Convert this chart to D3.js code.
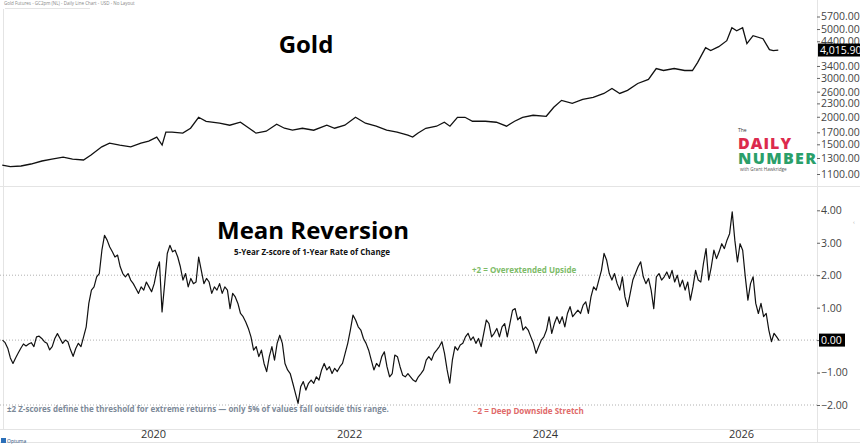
<!DOCTYPE html>
<html>
<head>
<meta charset="utf-8">
<script src="https://cdn.jsdelivr.net/npm/d3@7"></script>
<style>
  body { margin: 0; background: #fff; }
  text { font-family: 'Open Sans', sans-serif; }
</style>
</head>
<body>
<div id="chart"></div>
<script>
// gold futures
var goldDates = ["2018-06-18","2018-07-18","2018-08-27","2018-10-03","2018-11-13","2018-12-20","2019-01-31","2019-03-07","2019-04-17","2019-05-15",
  "2019-06-24","2019-07-23","2019-08-30","2019-10-10","2019-11-17","2019-12-16","2020-01-15","2020-02-04","2020-02-18","2020-03-12",
  "2020-04-21","2020-05-20","2020-06-19","2020-07-17","2020-09-05","2020-10-13","2020-11-22","2020-12-19","2021-01-19","2021-02-26",
  "2021-04-06","2021-05-05","2021-06-04","2021-07-11","2021-08-22","2021-10-10","2021-11-08","2021-12-16","2022-01-25","2022-03-03",
  "2022-04-12","2022-05-21","2022-06-29","2022-08-08","2022-08-26","2022-09-14","2022-10-14","2022-11-23","2022-12-22","2023-01-12",
  "2023-02-09","2023-03-09","2023-04-06","2023-05-24","2023-07-04","2023-08-11","2023-09-10","2023-10-10","2023-11-18","2024-01-06",
  "2024-02-03","2024-03-03","2024-04-12","2024-05-21","2024-06-29","2024-08-08","2024-09-07","2024-10-06","2024-11-04","2024-12-12",
  "2025-01-21","2025-02-19","2025-03-18","2025-04-27","2025-06-05","2025-07-04","2025-07-23","2025-08-22","2025-09-10","2025-10-10",
  "2025-11-09","2025-11-28","2025-12-16","2026-01-07","2026-01-23","2026-02-15","2026-03-24","2026-04-17","2026-05-01","2026-05-20"];
var goldValues = [1208,1187,1196,1221,1260,1286,1313,1286,1273,1341,
  1461,1518,1488,1461,1518,1550,1617,1488,1703,1703,
  1685,1774,1989,1908,1870,1831,1889,1793,1685,1720,
  1850,1774,1738,1774,1738,1831,1774,1831,1989,1870,
  1812,1738,1703,1650,1617,1685,1774,1812,1889,1812,
  1989,1989,1908,1908,1889,1812,1908,1989,2032,2010,
  2208,2374,2300,2398,2448,2552,2689,2552,2634,2832,
  2953,3310,3243,3310,3243,3243,3523,4117,3991,4160,
  4427,5068,4913,5068,4291,4664,4520,4033,3991,4015.9];
var goldTicks = [1100,1300,1500,1700,2000,2300,2600,3000,3400,4400,5000,5700];

// 5-year z-score of 1-year rate of change, one reading about every 10 days
var zStart = "2018-06-19";
var zStepDays = 9.75;
var zValues = [0,-0.08,-0.25,-0.55,-0.72,-0.55,-0.4,-0.25,-0.12,-0.18,-0.12,-0.08,-0.2,0.1,0.12,0.05,-0.05,-0.1,-0.3,-0.2,
  0.05,0.2,0.05,-0.1,0.0,-0.05,-0.3,-0.5,-0.26,-0.1,
  -0.2,0.1,0.41,1.13,1.54,1.64,1.95,2.05,2.77,3.23,3.08,2.87,2.72,2.56,2.62,2.26,2.05,1.95,2.05,1.85,
  1.74,1.59,1.44,1.64,1.54,1.79,1.64,1.49,1.74,2.15,2.41,0.87,1.74,2.67,2.92,2.72,2.77,2.56,2.26,1.85,
  2.05,1.64,1.90,1.74,1.79,2.56,2.15,1.74,1.90,1.79,1.44,1.64,1.54,1.74,1.44,1.64,1.54,0.97,1.44,1.33,
  1.13,0.82,0.72,0.56,0.36,0.10,-0.31,-0.2,-0.51,-0.31,-0.72,-0.97,-0.51,-0.2,-0.62,-0.1,0.15,-0.1,-0.72,-0.92,
  -1.03,-1.33,-1.64,-1.95,-1.44,-1.28,-1.54,-1.33,-1.23,-1.33,-1.13,-1.23,-0.92,-0.72,-0.92,-0.82,-1.03,-0.87,-0.97,-0.82,
  -0.72,-0.41,-0.1,0.31,0.77,0.62,0.41,0.31,0.05,-0.1,-0.31,-0.62,-0.92,-0.72,-0.82,-0.51,-0.36,-0.82,-1.13,-1.03,
  -0.46,-0.51,-0.82,-1.08,-1.13,-1.03,-1.13,-1.23,-1.28,-1.13,-1.03,-0.92,-0.62,-0.51,-0.62,-0.41,-0.31,-0.2,-0.05,-0.41,
  -0.92,-1.33,-0.62,-0.2,-0.31,-0.15,-0.1,0.10,0.21,0,0.1,-0.1,0.05,-0.2,0.21,0.62,0.51,0.1,0.21,0.36,
  0.1,0.41,0.51,0.1,0.51,0.92,0.97,0.62,0.72,0.31,0.41,0.31,0.1,-0.1,-0.41,-0.2,0,0.1,0.31,0.72,
  0.21,0.51,0.72,0.51,0.72,0.41,0.82,1.03,0.72,0.82,0.92,0.82,1.08,1.18,0.82,1.33,1.64,1.54,1.85,2.15,
  2.67,2.46,2.05,1.85,2.05,1.74,1.54,1.95,1.33,1.03,1.44,1.85,2.05,2.26,2.41,1.95,1.74,1.90,1.54,0.97,
  1.95,2.05,1.85,1.95,2.10,1.90,2.15,1.79,2.0,1.64,1.85,1.54,1.79,1.23,1.64,2.15,1.85,1.79,2.36,2.82,
  1.85,2.26,2.77,2.51,2.72,2.97,2.82,3.08,3.28,3.95,3.08,2.41,2.97,2.77,1.95,1.23,1.74,1.95,1.13,0.82,
  1.13,0.72,0.82,0.31,-0.05,0.21,0.1,-0.02];
var zTicks = [-2,-1,0,1,2,3,4];
var zLevels = [2,0,-2];
var yearTicks = ["2020-01-01","2022-01-01","2024-01-01","2026-01-01"];

// set up svg
var svgWidth = 860;
var svgHeight = 446;
var plotRight = 817;
var parseDate = d3.timeParse('%Y-%m-%d');

var svg = d3.select('#chart')
    .append('svg')
    .attr('width', svgWidth)
    .attr('height', svgHeight);

var goldData = goldDates.map(function(d, i) {
    return { date: parseDate(d), value: goldValues[i] };
});
var t0 = parseDate(zStart).getTime();
var zData = zValues.map(function(v, i) {
    return { date: new Date(t0 + i * zStepDays * 864e5), value: v };
});

// scales
var xScale = d3.scaleTime()
    .domain([parseDate('2020-01-01'), parseDate('2026-01-01')])
    .range([153, 741]);

var yGold = d3.scaleLog()
    .domain([1100, 5700])
    .range([174, 16.5]);

var yZ = d3.scaleLinear()
    .domain([-2, 4])
    .range([405, 210.3]);

// frame lines
var frame = svg.append('g').attr('stroke', '#e4e4e4').attr('stroke-width', 1);
frame.append('line').attr('x1', 0).attr('x2', svgWidth).attr('y1', 186.5).attr('y2', 186.5);
frame.append('line').attr('x1', 0).attr('x2', svgWidth).attr('y1', 429.5).attr('y2', 429.5);
frame.append('line').attr('x1', 0).attr('x2', svgWidth).attr('y1', 442.5).attr('y2', 442.5);
frame.append('line').attr('x1', 5).attr('x2', 90).attr('y1', 8.5).attr('y2', 8.5);
frame.append('line').attr('x1', 3.5).attr('x2', 3.5).attr('y1', 9).attr('y2', 429);
frame.append('line').attr('x1', plotRight + 0.5).attr('x2', plotRight + 0.5).attr('y1', 0).attr('y2', 443);

// chart heading
svg.append('text')
    .attr('x', 4).attr('y', 5)
    .attr('font-size', 4.5)
    .attr('fill', '#888')
    .text('Gold Futures - GC2pm (NL) - Daily Line Chart - USD - No Layout');

// z-score reference levels
svg.selectAll('.level')
    .data(zLevels)
    .enter()
    .append('line')
    .attr('class', 'level')
    .attr('x1', 0).attr('x2', plotRight)
    .attr('y1', d => yZ(d)).attr('y2', d => yZ(d))
    .attr('stroke', '#b0b0b0')
    .attr('stroke-width', 1)
    .attr('stroke-dasharray', '1,2');

// lines
var goldLine = d3.line().x(d => xScale(d.date)).y(d => yGold(d.value));
var zLine = d3.line().x(d => xScale(d.date)).y(d => yZ(d.value));

svg.append('path')
    .datum(goldData)
    .attr('fill', 'none')
    .attr('stroke', '#111')
    .attr('stroke-width', 1.3)
    .attr('d', goldLine);

svg.append('path')
    .datum(zData)
    .attr('fill', 'none')
    .attr('stroke', '#111')
    .attr('stroke-width', 1.2)
    .attr('stroke-linejoin', 'round')
    .attr('d', zLine);

// right axes
function styleAxis(g) {
    g.select('.domain').remove();
    g.selectAll('.tick line').attr('stroke', '#666');
    g.selectAll('.tick text')
        .attr('x', 4)
        .attr('fill', '#444')
        .style('font-family', "'Open Sans', sans-serif")
        .style('font-size', '10.5px');
}

svg.append('g')
    .attr('transform', `translate(${plotRight},0)`)
    .call(d3.axisRight(yGold).tickValues(goldTicks).tickFormat(d3.format('.2f')).tickSize(3))
    .call(styleAxis);

var zAxis = svg.append('g')
    .attr('transform', `translate(${plotRight},0)`)
    .call(d3.axisRight(yZ).tickValues(zTicks).tickFormat(d3.format('.2f')).tickSize(3))
    .call(styleAxis);
// the zero label is drawn as the last-value box instead
zAxis.selectAll('.tick').filter(d => d === 0).select('text').remove();

// last value boxes
var lastGold = goldData[goldData.length - 1];
var lastZ = zData[zData.length - 1];

svg.append('rect')
    .attr('x', plotRight + 1).attr('y', yGold(lastGold.value) - 6.5)
    .attr('width', 46).attr('height', 13)
    .attr('fill', '#000');
svg.append('text')
    .attr('x', plotRight + 3).attr('y', yGold(lastGold.value) + 4)
    .attr('fill', '#fff')
    .attr('font-size', 10.5)
    .text(d3.format(',.2f')(lastGold.value));

svg.append('rect')
    .attr('x', plotRight + 2).attr('y', yZ(0) - 6.5)
    .attr('width', 26).attr('height', 13)
    .attr('fill', '#000');
svg.append('text')
    .attr('x', plotRight + 4).attr('y', yZ(0) + 4)
    .attr('fill', '#fff')
    .attr('font-size', 10.5)
    .text(d3.format('.2f')(Math.abs(lastZ.value) < 0.05 ? 0 : lastZ.value));

// bottom time axis
var xAxis = svg.append('g')
    .attr('transform', 'translate(0,430)')
    .call(d3.axisBottom(xScale).tickValues(yearTicks.map(parseDate)).tickFormat(d3.timeFormat('%Y')).tickSize(0));
xAxis.select('.domain').remove();
xAxis.selectAll('text')
    .attr('dy', '0.55em')
    .attr('y', 2)
    .attr('fill', '#333')
    .style('font-family', "'Open Sans', sans-serif")
    .style('font-size', '11px');

// titles
svg.append('text')
    .attr('x', 306).attr('y', 53)
    .attr('text-anchor', 'middle')
    .attr('font-size', 24)
    .attr('font-weight', 'bold')
    .attr('fill', '#000')
    .text('Gold');

svg.append('text')
    .attr('x', 313).attr('y', 239)
    .attr('text-anchor', 'middle')
    .attr('font-size', 24)
    .attr('font-weight', 'bold')
    .attr('fill', '#000')
    .text('Mean Reversion');

svg.append('text')
    .attr('x', 312).attr('y', 254.5)
    .attr('text-anchor', 'middle')
    .attr('font-size', 8)
    .attr('font-weight', 'bold')
    .attr('fill', '#111')
    .text('5-Year Z-score of 1-Year Rate of Change');

svg.append('text')
    .attr('x', 472).attr('y', 272.5)
    .attr('font-size', 8)
    .attr('font-weight', 'bold')
    .attr('fill', '#7dbb68')
    .text('+2 = Overextended Upside');

svg.append('text')
    .attr('x', 473).attr('y', 413.5)
    .attr('font-size', 8)
    .attr('font-weight', 'bold')
    .attr('fill', '#e06a6a')
    .text('\u22122 = Deep Downside Stretch');

svg.append('text')
    .attr('x', 7).attr('y', 411.5)
    .attr('font-size', 8)
    .attr('font-weight', 'bold')
    .attr('fill', '#7d8a99')
    .text('\u00b12 Z-scores define the threshold for extreme returns \u2014 only 5% of values fall outside this range.');

// The Daily Number logo
var logo = svg.append('g').style('font-family', "Roboto, sans-serif");
logo.append('text').attr('x', 738).attr('y', 132).attr('font-size', 5).attr('fill', '#333').text('The');
logo.append('text').attr('x', 738).attr('y', 148.5).attr('font-size', 16).attr('font-weight', 900)
    .attr('fill', '#dc2a4d').attr('textLength', 53).text('DAILY');
logo.append('text').attr('x', 738).attr('y', 164).attr('font-size', 16).attr('font-weight', 900)
    .attr('fill', '#2a9f6a').attr('textLength', 78).text('NUMBER');
logo.append('text').attr('x', 740).attr('y', 171).attr('font-size', 4.6).attr('fill', '#555').text('with Grant Hawkridge');

// Optuma mark
svg.append('rect').attr('x', 1).attr('y', 438).attr('width', 5).attr('height', 5).attr('fill', '#2b6fb8');
svg.append('text').attr('x', 7).attr('y', 443).attr('font-size', 5).attr('fill', '#2b4f7a').text('Optuma');

svg.append('text').attr('x', 853).attr('y', 224).attr('font-size', 6).attr('fill', '#aaa').text('\u2039');
</script>
</body>
</html>
